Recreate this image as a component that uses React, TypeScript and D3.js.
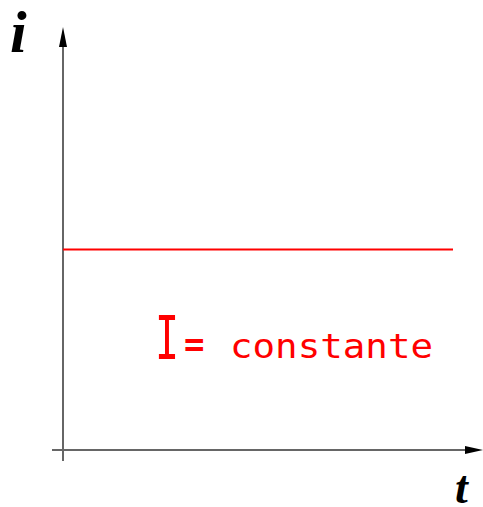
import React from "react";
import * as d3 from "d3";

const timeDomain = [0, 10];
const currentDomain = [0, 10];
const currentSeries = [
  { t: 0, i: 5 },
  { t: 10, i: 5 },
];
const axisLabels = { x: "t", y: "i" };
const annotation = { symbol: "I", eq: "=", word: "constante" };

export default function App() {
  const W = 483, H = 507;
  const x = d3.scaleLinear().domain(timeDomain).range([63, 453]);
  const y = d3.scaleLinear().domain(currentDomain).range([450, 49]);
  const line = d3
    .line<{ t: number; i: number }>()
    .x((d) => x(d.t))
    .y((d) => y(d.i));
  const ox = x(0);
  const oy = y(0);
  return (
    <svg
      width={W}
      height={H}
      style={{ position: "absolute", left: 0, top: 0 }}
      viewBox={`0 0 ${W} ${H}`}
    >
      <rect width={W} height={H} fill="#fff" />
      {/* y axis */}
      <line x1={ox} y1={461} x2={ox} y2={40} stroke="#666" strokeWidth={2} />
      <path d={`M${ox},27 L${ox - 4},47 L${ox + 4},47 Z`} fill="#000" />
      {/* x axis */}
      <line x1={52} y1={oy} x2={470} y2={oy} stroke="#666" strokeWidth={2} />
      <path d={`M483,${oy} L465,${oy - 4} L465,${oy + 4} Z`} fill="#000" />
      {/* constant current */}
      <path d={line(currentSeries) || ""} fill="none" stroke="#ff0000" strokeWidth={2} />
      {/* axis labels */}
      <text
        x={10}
        y={52}
        fontFamily="Liberation Serif"
        fontStyle="italic"
        fontWeight="bold"
        fontSize={60}
        fill="#000"
      >
        {axisLabels.y}
      </text>
      <text
        x={455}
        y={503}
        fontFamily="Liberation Serif"
        fontStyle="italic"
        fontWeight="bold"
        fontSize={46}
        fill="#000"
      >
        {axisLabels.x}
      </text>
      {/* annotation */}
      <text
        x={155}
        y={359}
        fontFamily="DejaVu Sans Mono"
        fontSize={60}
        fill="#ff0000"
        textLength={24}
        lengthAdjust="spacingAndGlyphs"
      >
        {annotation.symbol}
      </text>
      <text
        x={184}
        y={356}
        fontFamily="DejaVu Sans Mono"
        fontSize={34}
        fontWeight="bold"
        fill="#ff0000"
      >
        {annotation.eq}
      </text>
      <text
        x={230}
        y={358}
        fontFamily="DejaVu Sans Mono"
        fontSize={34}
        fill="#ff0000"
        textLength={203}
        lengthAdjust="spacingAndGlyphs"
      >
        {annotation.word}
      </text>
    </svg>
  );
}
